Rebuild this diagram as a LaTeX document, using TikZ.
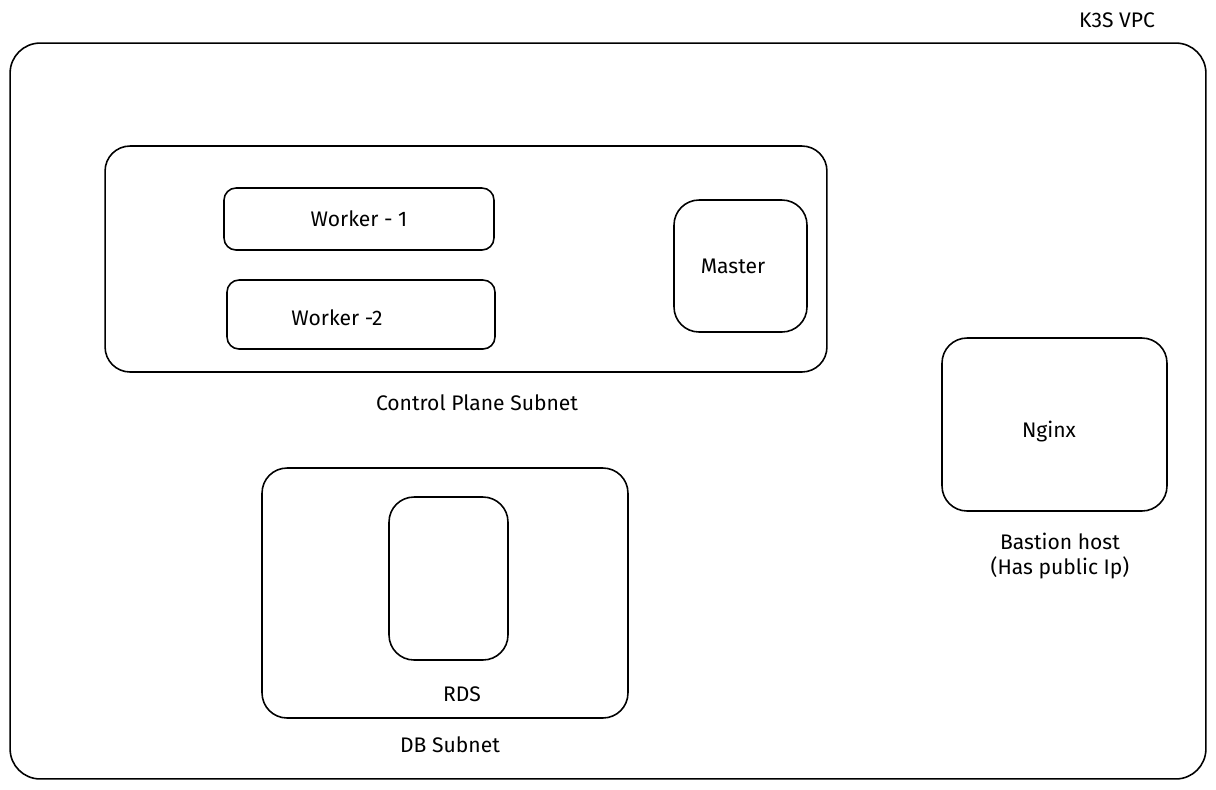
\documentclass[tikz,border=0pt]{standalone}
\usepackage{fontspec}
\setmainfont{Fira Sans}
\tikzset{
  box/.style={draw, line width=0.9pt, rectangle, rounded corners=#1, inner sep=0pt},
  box/.default=0.5cm,
  lbl/.style={font=\fontsize{12}{14}\selectfont, inner sep=1pt}
}
\begin{document}
\begin{tikzpicture}[x=0.02cm, y=-0.02cm]
                \useasboundingbox (0,0) rectangle (1216,789);
                % vpc
                \node[box=0.6cm, minimum width=23.92cm, minimum height=14.72cm] (vpc) at (608,411) {};
                \node[lbl] (vpclbl) at (1117,20) {K3S VPC};
                % control plane subnet
                \node[box, minimum width=14.44cm, minimum height=4.52cm] (cpsub) at (466,259) {};
                \node[box=0.24cm, minimum width=5.4cm, minimum height=1.24cm] (worker1) at (359,219) {};
                \node[lbl] (w1lbl) at (359,219) {Worker - 1};
                \node[box=0.24cm, minimum width=5.36cm, minimum height=1.38cm] (worker2) at (361,314.5) {};
                \node[lbl] (w2lbl) at (337,318) {Worker -2};
                \node[box, minimum width=2.66cm, minimum height=2.64cm] (master) at (740.5,266) {};
                \node[lbl] (mlbl) at (733,266) {Master};
                \node[lbl] (cplbl) at (477,403) {Control Plane Subnet};
                % bastion
                \node[box, minimum width=4.5cm, minimum height=3.46cm] (nginx) at (1054.5,424.5) {};
                \node[lbl] (nlbl) at (1049,432) {Nginx};
                \node[lbl, align=center] (blbl) at (1060,556) {Bastion host\\(Has public Ip)};
                % db subnet
                \node[box, minimum width=7.32cm, minimum height=5cm] (dbsub) at (445,593) {};
                \node[box, minimum width=2.38cm, minimum height=3.26cm] (rds) at (448.5,578.5) {};
                \node[lbl] (rdslbl) at (462,694) {RDS};
                \node[lbl] (dblbl) at (450,745) {DB Subnet};
            \end{tikzpicture}
\end{document}
